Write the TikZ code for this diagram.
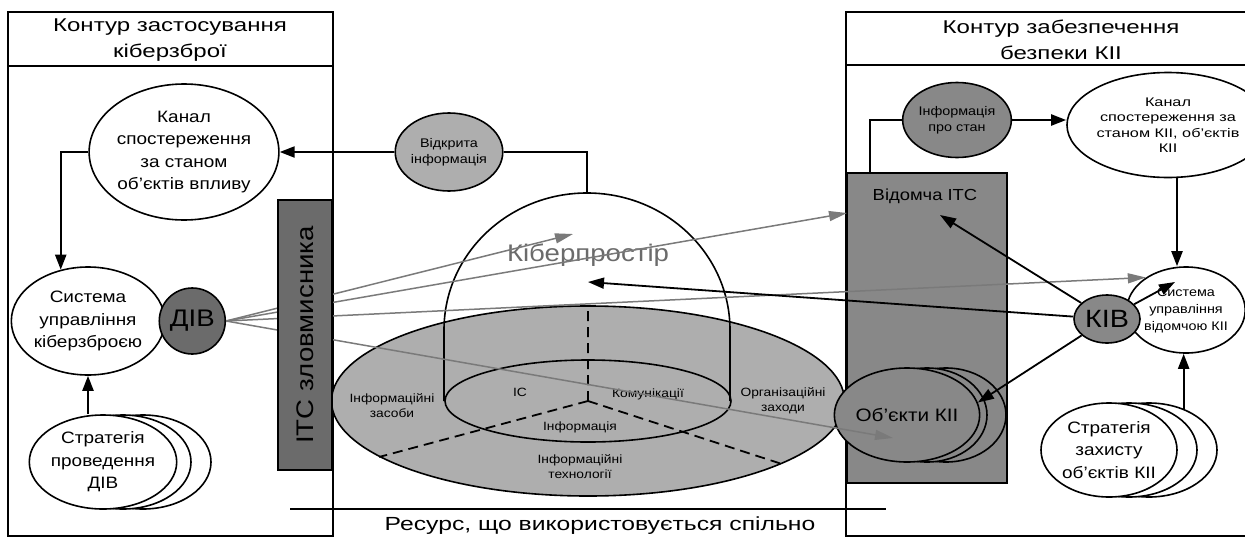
\documentclass[tikz,border=0pt]{standalone}
\usepackage{fontspec}
\setmainfont{Liberation Sans}[FakeStretch=1.15]
\newfontfamily\widesans{Liberation Sans}[FakeStretch=1.3]
\usepackage{xcolor}
\usepackage{tikz}
\usetikzlibrary{positioning,shapes.geometric,arrows.meta}

\definecolor{darkfill}{HTML}{6B6B6B}
\definecolor{midfill}{HTML}{888888}
\definecolor{lightfill}{HTML}{AEAEAE}
\definecolor{probecol}{HTML}{7A7A7A}
\newcommand{\fsz}[2]{\fontsize{#1}{#2}\selectfont}

\tikzset{
	bubble/.style={draw, ellipse, line width=1.6pt, inner sep=0pt, align=center, fill=white},
	block/.style={draw, rectangle, line width=1.6pt, inner sep=0pt},
	frame/.style={line width=2.3pt},
	flow/.style={line width=2.2pt, -{Triangle[length=15pt,width=11pt]}},
	hit/.style={line width=1.8pt, -{Triangle[length=16pt,width=11pt]}},
	probe/.style={draw=probecol, line width=1.5pt, -{Triangle[length=18pt,width=10pt]}},
	cut/.style={line width=1.8pt, dash pattern=on 10pt off 6pt}
}

\begin{document}
\begin{tikzpicture}[x=1pt,y=-1pt]
	\useasboundingbox (0,0) rectangle (1245,541);
	\draw[frame] (8,12) rectangle (333,536) (8,66) -- (333,66);
	\draw[frame] (846,12) rectangle (1252,536) (846,65) -- (1252,65);
	\node[align=center, font=\widesans\fsz{18.5}{26}] (ltitle) at (170,40) {Контур застосування\\кіберзброї};
	\node[align=center, font=\widesans\fsz{18.5}{26}] (rtitle) at (1061,40) {Контур забезпечення\\безпеки КІІ};
	\draw[frame] (290,509) -- (886,509);
	\node[font=\widesans\fsz{19}{22}] (shared) at (600,526) {Ресурс, що використовується спільно};

	\node[bubble, fill=lightfill, minimum width=513pt, minimum height=190pt] (res) at (588,401) {};
	\draw[line width=1.6pt] (444,401) -- (444,330) arc[start angle=180, end angle=0, x radius=143pt, y radius=137pt] -- (730,401);
	\node[bubble, fill=none, minimum width=286pt, minimum height=82pt] (isys) at (588,401) {};
	\draw[cut] (isys.center) -- (res.north) (isys.center) -- (res.195.8) (isys.center) -- (res.342.6);
	\node[align=center, font=\fsz{12}{15}] (izas) at (392,406) {Інформаційні\\засоби};
	\node[font=\fsz{12}{15}] (iscap) at (520,392) {ІС};
	\node[font=\fsz{12}{15}] (komm) at (648,394) {Комунікації};
	\node[align=center, font=\fsz{12}{15}] (orgz) at (783,401) {Організаційні\\заходи};
	\node[font=\fsz{12}{15}] (infm) at (580,427) {Інформація};
	\node[align=center, font=\fsz{12}{15}] (itech) at (580,467) {Інформаційні\\технології};
	\node[text=darkfill, font=\fsz{24}{26}] (cyber) at (588,255) {Кіберпростір};

	\node[bubble, minimum width=176pt, minimum height=136pt, font=\fsz{16.5}{22.5}] (kanal) at (184,152) {Канал\\спостереження\\за станом\\об’єктів впливу};
	\node[bubble, minimum width=132pt, minimum height=108pt, font=\fsz{16.5}{22.5}] (sys) at (88,321) {Система\\управління\\кіберзброєю};
	\node[bubble, circle, fill=darkfill, minimum size=66pt, font=\fsz{24}{26}, right=-7pt of sys] (div) {ДІВ};
	\node[bubble, minimum width=136pt, minimum height=94pt] (strat3) at (143,462) {};
	\node[bubble, minimum width=136pt, minimum height=94pt] (strat2) at (123,462) {};
	\node[bubble, minimum width=136pt, minimum height=94pt, font=\fsz{16.5}{22.5}] (strat) at (103,462) {Стратегія\\проведення\\ДІВ};
	\node[bubble, fill=lightfill, minimum width=103pt, minimum height=78pt, font=\fsz{12.5}{16}] (vidkr) at (449,152) {Відкрита\\інформація};
	\coordinate (domtop) at (587,193);
	\draw[frame] (domtop) |- (vidkr.east);
	\draw[flow] (vidkr) -- (kanal);
	\draw[flow] (kanal.west) -| (sys.118);
	\draw[flow] (sys.south |- strat.north) -- (sys.south);

	\node[block, fill=midfill, minimum width=160pt, minimum height=310pt] (vitc) at (927,328) {};
	\node[font=\fsz{16}{18}] (vitclab) at (925,196) {Відомча ІТС};
	\node[bubble, fill=midfill, minimum width=120pt, minimum height=94pt] (obj3) at (946,415) {};
	\node[bubble, fill=midfill, minimum width=120pt, minimum height=94pt] (obj2) at (927,415) {};
	\node[bubble, fill=midfill, minimum width=120pt, minimum height=94pt, font=\fsz{18}{20}] (obj) at (907,415) {Об’єкти КІІ};
	\node[bubble, fill=midfill, minimum width=105pt, minimum height=75pt, font=\fsz{12.5}{16}] (infst) at (957,120) {Інформація\\про стан};
	\node[bubble, minimum width=156pt, minimum height=105pt, font=\widesans\fsz{12.5}{15.5}] (kanr) at (1168,125) {Канал\\спостереження за\\станом КІІ, об’єктів\\КІІ};
	\node[bubble, minimum width=108pt, minimum height=86pt, font=\fsz{12.5}{17}] (sysk) at (1186,310) {Система\\управління\\відомчою КІІ};
	\node[bubble, fill=midfill, minimum width=66pt, minimum height=48pt, font=\fsz{25}{27}] (kib) at (1107,319) {КІВ};
	\node[bubble, minimum width=136pt, minimum height=94pt] (strz3) at (1149,450) {};
	\node[bubble, minimum width=136pt, minimum height=94pt] (strz2) at (1129,450) {};
	\node[bubble, minimum width=136pt, minimum height=94pt, font=\fsz{16.5}{22.5}] (strz) at (1109,450) {Стратегія\\захисту\\об’єктів КІІ};
	\draw[frame] ([xshift=24pt]vitc.north west) |- (infst.west);
	\draw[flow] (infst.east) -- (infst.east -| kanr.west);
	\draw[flow] ([xshift=9pt]kanr.south) -- ([xshift=9pt]kanr.south |- sysk.north);
	\draw[flow] (strz3.50) -- (strz3.50 |- sysk.south);

	\coordinate (tcyb) at (573,234);
	\coordinate (tvid) at (847,213);
	\coordinate (tobj) at (893,438);
	\coordinate (kcyb) at (588,282);
	\coordinate (kvid) at (940,215);
	\coordinate (ksys) at (1175,282);
	\draw[probe] (div.east) -- (tcyb);
	\draw[probe] (div.east) -- (tvid);
	\draw[probe] (div.east) -- (sysk.141);
	\draw[probe] (div.east) -- (tobj);
	\draw[hit] (kib) -- (kvid);
	\draw[hit] (kib) -- (kcyb);
	\draw[hit] (kib) -- (obj.10);
	\draw[hit] (kib) -- (ksys);
	\node[block, fill=darkfill, rotate=90, minimum width=270pt, minimum height=54pt, font=\fsz{24}{26}] (itcz) at (305,335) {ІТС зловмисника};
\end{tikzpicture}
\end{document}
